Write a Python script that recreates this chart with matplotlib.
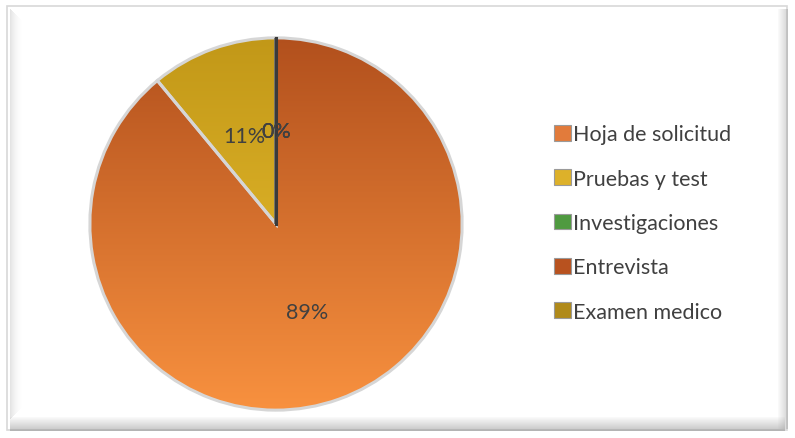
import numpy as np
import matplotlib
matplotlib.use("Agg")
import matplotlib.pyplot as plt
from matplotlib.patches import Rectangle
from matplotlib.colors import LinearSegmentedColormap

plt.rcParams['font.family'] = ['Lato', 'DejaVu Sans']

categories = ["Hoja de solicitud", "Pruebas y test", "Investigaciones",
              "Entrevista", "Examen medico"]
values = [89, 11, 0, 0, 0]
base_colors = ["#E27B3B", "#DDB12A", "#4F9A40", "#B8521F", "#B08A1A"]
# top / bottom shades used for the gradient fill of each slice
shade_top = ["#B2501D", "#C29818", "#3E7E30", "#8F3E15", "#8A6A10"]
shade_bottom = ["#F8913F", "#EEC232", "#62B050", "#D06528", "#C9A024"]

W, H = 795, 439
fig = plt.figure(figsize=(W / 100, H / 100), dpi=100)
fig.patch.set_facecolor("white")

# frame with soft shadow on left, bottom and right
bg = fig.add_axes([0, 0, 1, 1])
bg.set_xlim(0, W)
bg.set_ylim(H, 0)
bg.axis("off")
bg.add_patch(Rectangle((7, 7), 780, 424, fc="white", ec="#d8d8d8", lw=1.2))
for i in range(12):
    a = 0.05 + 0.03 * (11 - i)
    g = str(0.55 + 0.035 * i)
    bg.add_patch(Rectangle((10 + i, 10 + i), 1, 410 - 2 * i, fc=g, ec="none", alpha=a * 0.6))
for i in range(14):
    a = 0.05 + 0.035 * i
    bg.add_patch(Rectangle((10, 418 + i), 775, 1, fc="0.55", ec="none", alpha=a))
for i in range(10):
    a = 0.05 + 0.04 * i
    bg.add_patch(Rectangle((778 + i, 10), 1, 420, fc="0.6", ec="none", alpha=a))

# pie axes: centre (276, 225), radius 188 px
cx, cy, r = 276, 225, 188
ax = fig.add_axes([(cx - r) / W, (H - cy - r) / H, 2 * r / W, 2 * r / H])
ax.axis("off")

wedges, texts, autotexts = ax.pie(
    values, colors=base_colors, startangle=90, counterclock=False, radius=1.0,
    autopct="%1.0f%%", pctdistance=0.5,
    wedgeprops=dict(edgecolor="#d6d6d6", linewidth=2.2),
    textprops=dict(color="#404040", fontsize=15.5))

yy = np.linspace(-1, 1, 256).reshape(-1, 1)
for w, top, bot, v in zip(wedges, shade_top, shade_bottom, values):
    if v == 0:
        w.set_edgecolor("#3a3a3a")
        w.set_linewidth(1.8)
        w.set_zorder(4)
        continue
    cmap = LinearSegmentedColormap.from_list("s", [top, bot])
    im = ax.imshow(np.tile(yy, (1, 2)), cmap=cmap, extent=(-1, 1, -1, 1),
                   origin="upper", zorder=1, interpolation="bilinear")
    im.set_clip_path(w)
    w.set_facecolor("none")
    w.set_zorder(2)

# dark edge where the empty slices sit
ax.plot([0, 0], [0, 1], color="#3a3a3a", lw=2.2, zorder=5)

for t in autotexts:
    t.set_zorder(6)

ax.set_xlim(-1.01, 1.01)
ax.set_ylim(-1.01, 1.01)
ax.set_aspect("equal")

handles = [Rectangle((0, 0), 1, 1, fc=c, ec="#9a9a9a", lw=0.8) for c in base_colors]
fig.legend(handles, categories, loc="upper left", bbox_to_anchor=(535 / W, 1 - 106 / H),
           frameon=False, fontsize=15.5, labelcolor="#404040",
           handlelength=0.75, handleheight=0.75, handletextpad=0.1, labelspacing=1.13)

fig.savefig("out.png", dpi=100)
